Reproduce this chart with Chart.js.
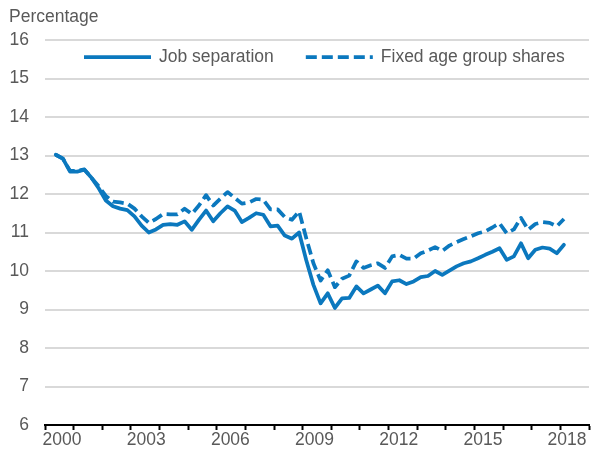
<!DOCTYPE html>
<html><head><meta charset="utf-8">
<script src="https://cdn.jsdelivr.net/npm/chart.js@4.4.0/dist/chart.umd.min.js"></script>
<style>html,body{margin:0;padding:0;background:#fff}#wrap{width:606px;height:457px}</style>
</head><body><div id="wrap"><canvas id="c" width="606" height="457"></canvas></div>
<script>
const quarters = [
 "2000Q2","2000Q3","2000Q4","2001Q1","2001Q2","2001Q3","2001Q4","2002Q1","2002Q2","2002Q3","2002Q4",
 "2003Q1","2003Q2","2003Q3","2003Q4","2004Q1","2004Q2","2004Q3","2004Q4","2005Q1","2005Q2","2005Q3","2005Q4",
 "2006Q1","2006Q2","2006Q3","2006Q4","2007Q1","2007Q2","2007Q3","2007Q4","2008Q1","2008Q2","2008Q3","2008Q4",
 "2009Q1","2009Q2","2009Q3","2009Q4","2010Q1","2010Q2","2010Q3","2010Q4","2011Q1","2011Q2","2011Q3","2011Q4",
 "2012Q1","2012Q2","2012Q3","2012Q4","2013Q1","2013Q2","2013Q3","2013Q4","2014Q1","2014Q2","2014Q3","2014Q4",
 "2015Q1","2015Q2","2015Q3","2015Q4","2016Q1","2016Q2","2016Q3","2016Q4","2017Q1","2017Q2","2017Q3","2017Q4",
 "2018Q1"
];
const jobSeparation = [
 13.02,12.92,12.58,12.58,12.63,12.42,12.15,11.83,11.68,11.62,11.58,
 11.42,11.18,11.00,11.08,11.20,11.22,11.20,11.29,11.07,11.33,11.57,11.29,
 11.50,11.68,11.57,11.27,11.38,11.50,11.46,11.16,11.18,10.92,10.84,11.00,
 10.28,9.64,9.16,9.42,9.04,9.29,9.30,9.60,9.42,9.52,9.62,9.42,
 9.73,9.76,9.66,9.73,9.84,9.87,10.00,9.90,10.01,10.12,10.20,10.25,
 10.33,10.42,10.50,10.59,10.29,10.38,10.72,10.33,10.55,10.61,10.58,10.46,
 10.68
];
const fixedAgeShares = [
 13.02,12.92,12.60,12.60,12.64,12.42,12.20,11.95,11.80,11.78,11.75,
 11.62,11.42,11.25,11.35,11.48,11.47,11.47,11.62,11.48,11.70,11.97,11.70,
 11.88,12.05,11.90,11.75,11.78,11.87,11.85,11.60,11.60,11.40,11.33,11.55,
 10.85,10.20,9.75,10.02,9.58,9.80,9.88,10.25,10.08,10.15,10.20,10.08,
 10.38,10.42,10.32,10.32,10.46,10.53,10.62,10.52,10.66,10.75,10.83,10.90,
 10.98,11.03,11.13,11.24,10.98,11.08,11.38,11.07,11.22,11.27,11.25,11.16,
 11.35
];
const xLabelYears = [2000, 2003, 2006, 2009, 2012, 2015, 2018];
const seriesNames = ["Job separation", "Fixed age group shares"];
const unitLabel = "Percentage";

const BLUE = '#0B78BE';
const GREY_TEXT = '#595959';
const FONT = "'Liberation Sans', Arial, sans-serif";
const FS = 17.5;
const toX = l => +l.slice(0, 4) + (+l.slice(5) - 1) / 4 + 0.125;
const pts = arr => quarters.map((q, i) => ({ x: toX(q), y: arr[i] }));

const unitPlugin = {
  id: 'unitLabel',
  afterDraw(chart) {
    const c = chart.ctx; c.save();
    c.font = FS + 'px ' + FONT; c.fillStyle = GREY_TEXT;
    c.textAlign = 'left'; c.textBaseline = 'middle';
    c.fillText(unitLabel, 9, 17);
    c.restore();
  }
};
// legend drawn from the datasets' own styles
const lineLegend = {
  id: 'lineLegend',
  afterDraw(chart) {
    const c = chart.ctx; c.save();
    c.font = FS + 'px ' + FONT; c.textBaseline = 'middle'; c.textAlign = 'left';
    const y = 57, sample = 67, gapText = 8, gapItem = 32;
    let x = 84;
    chart.data.datasets.forEach(ds => {
      c.strokeStyle = ds.borderColor; c.lineWidth = ds.borderWidth;
      c.setLineDash(ds.borderDash || []); c.lineCap = 'butt';
      c.beginPath(); c.moveTo(x, y); c.lineTo(x + sample, y); c.stroke();
      c.setLineDash([]);
      x += sample + gapText;
      c.fillStyle = GREY_TEXT; c.fillText(ds.label, x, y);
      x += c.measureText(ds.label).width + gapItem;
    });
    c.restore();
  }
};

new Chart(document.getElementById('c'), {
  type: 'line',
  data: {
    datasets: [
      { label: seriesNames[0], data: pts(jobSeparation), borderColor: BLUE, backgroundColor: BLUE,
        borderWidth: 3.75, pointRadius: 0, tension: 0, borderJoinStyle: 'round', borderCapStyle: 'round' },
      { label: seriesNames[1], data: pts(fixedAgeShares), borderColor: BLUE, backgroundColor: BLUE,
        borderWidth: 3.75, pointRadius: 0, tension: 0, borderDash: [11, 5], borderCapStyle: 'butt', borderJoinStyle: 'round' }
    ]
  },
  options: {
    responsive: false, animation: false, devicePixelRatio: 1,
    layout: { padding: { left: 0, right: 17, top: 40, bottom: 0 } },
    scales: {
      x: {
        type: 'linear', position: 'bottom', min: 2000, max: 2019,
        afterFit: s => { s.height = 5; },
        ticks: { display: false, stepSize: 1 },
        grid: { drawOnChartArea: false, drawTicks: true, tickLength: 5, tickWidth: 2, tickColor: '#000' },
        border: { display: true, color: '#000', width: 2 }
      },
      xLabels: {
        type: 'linear', position: 'bottom', axis: 'x',
        min: 1999.394, max: 2018.781,
        afterBuildTicks: s => { s.ticks = xLabelYears.map(v => ({ value: v })); },
        afterFit: s => { s.height = 27; },
        ticks: { autoSkip: false, maxRotation: 0, minRotation: 0, padding: 0, color: GREY_TEXT,
          font: { family: FONT, size: FS }, callback: v => String(v) },
        grid: { display: false, drawTicks: false },
        border: { display: false }
      },
      y: {
        min: 6, max: 16,
        afterFit: s => { s.width = 45; },
        ticks: { stepSize: 1, padding: 16, color: GREY_TEXT, font: { family: FONT, size: FS } },
        grid: { color: '#D9D9D9', lineWidth: 2, drawTicks: false },
        border: { display: false }
      }
    },
    plugins: {
      legend: { display: false },
      tooltip: { enabled: false }
    }
  },
  plugins: [unitPlugin, lineLegend]
});
</script></body></html>
